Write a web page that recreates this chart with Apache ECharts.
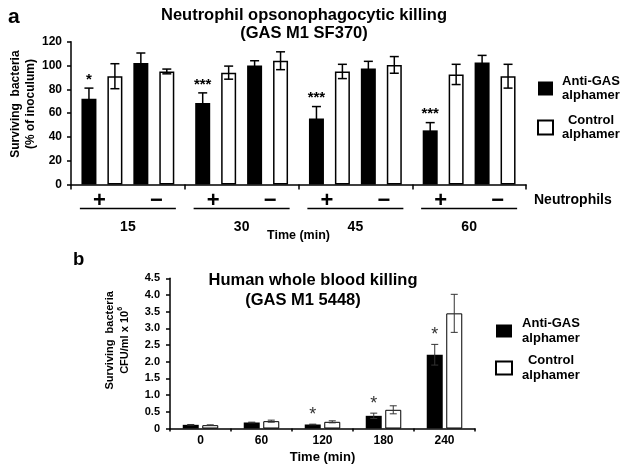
<!DOCTYPE html>
<html><head><meta charset="utf-8">
<script src="https://cdn.jsdelivr.net/npm/echarts@6/dist/echarts.min.js"></script>
<style>html,body{margin:0;padding:0;background:#fff}#c{width:624px;height:473px}</style>
</head><body><div id="c"></div>
<script>
const FF = '"Liberation Sans", Arial, Helvetica, sans-serif';

// ---------- Panel a data ----------
const timesA = ['15', '30', '45', '60'];
const neutSigns = ['+', '\u2212'];
const antiPlus = [72, 68.5, 55.5, 45.5];
const antiPlusErr = [9, 8.5, 10, 6.5];
const ctrlPlus = [91, 94, 95, 92.5];
const ctrlPlusErr = [10.5, 5.5, 6, 8.5];
const antiMinus = [102, 100, 97.5, 102.5];
const antiMinusErr = [8.5, 4, 6, 6];
const ctrlMinus = [95, 104, 100.5, 91];
const ctrlMinusErr = [2, 7.5, 7, 10];
const sigA = ['*', '***', '***', '***'];
const yTicksA = [0, 120, 20];

// ---------- Panel b data ----------
const timesB = ['0', '60', '120', '180', '240'];
const antiB = [0.11, 0.18, 0.12, 0.38, 2.21];
const antiBErr = [0.01, 0.01, 0.01, 0.08, 0.31];
const ctrlB = [0.10, 0.22, 0.20, 0.56, 3.45];
const ctrlBErr = [0.01, 0.03, 0.03, 0.12, 0.57];
const sigB = ['', '', '*', '*', '*'];
const yTicksB = [0, 4.5, 0.5];

const LEG = ['Anti-GAS\nalphamer', 'Control\nalphamer'];

const neutCats = timesA.flatMap(t => neutSigns.map(s => t + s));

const groupsA = [
  { name: LEG[0], vals: antiPlus, errs: antiPlusErr, sig: sigA, fill: '#000' },
  { name: LEG[1], vals: ctrlPlus, errs: ctrlPlusErr, sig: null, fill: '#fff' },
  { name: LEG[0], vals: antiMinus, errs: antiMinusErr, sig: null, fill: '#000' },
  { name: LEG[1], vals: ctrlMinus, errs: ctrlMinusErr, sig: null, fill: '#fff' }
];
const groupsB = [
  { name: LEG[0], vals: antiB, errs: antiBErr, sig: sigB, fill: '#000' },
  { name: LEG[1], vals: ctrlB, errs: ctrlBErr, sig: null, fill: '#fff' }
];

function barSeries(groups, xi, yi, barW, gap, bw) {
  return groups.map(g => ({
    type: 'bar', name: g.name, xAxisIndex: xi, yAxisIndex: yi,
    data: g.vals, barWidth: barW, barGap: gap,
    itemStyle: { color: g.fill, borderColor: '#000', borderWidth: g.fill === '#000' ? 0 : bw },
    emphasis: { disabled: true }
  }));
}

function errSeries(groups, xi, yi, barW, gapR, st) {
  const data = [], sigs = [];
  groups.forEach((g, k) => g.vals.forEach((v, i) => {
    data.push([i, v, g.errs[i], k]);
    sigs.push(g.sig ? g.sig[i] : '');
  }));
  const n = groups.length;
  return {
    type: 'custom', xAxisIndex: xi, yAxisIndex: yi, silent: true, z: 5,
    data: data,
    renderItem: function (params, api) {
      const i = api.value(0), v = api.value(1), e = api.value(2), k = api.value(3);
      const gap = barW * gapR;
      const total = n * barW + (n - 1) * gap;
      const off = -total / 2 + barW / 2 + k * (barW + gap);
      const pt = api.coord([i, v + e]);
      const pb = api.coord([i, v - e]);
      const x = pt[0] + off;
      const ls = { stroke: st.color, lineWidth: st.lw };
      const ch = [
        { type: 'line', shape: { x1: x, y1: pt[1], x2: x, y2: pb[1] }, style: ls },
        { type: 'line', shape: { x1: x - st.cap, y1: pt[1], x2: x + st.cap, y2: pt[1] }, style: ls },
        { type: 'line', shape: { x1: x - st.cap, y1: pb[1], x2: x + st.cap, y2: pb[1] }, style: ls }
      ];
      const s = sigs[params.dataIndex];
      if (s) {
        ch.push({ type: 'text', x: x, y: pt[1] - st.sigGap,
          style: { text: s, align: 'center', verticalAlign: 'bottom', fill: st.sigColor,
            fontSize: st.sigSize, fontWeight: st.sigWeight, fontFamily: FF } });
      }
      return { type: 'group', children: ch };
    }
  };
}

function legendFmt(n) { return n.split('\n').map(s => '{c|' + s + '}').join('\n'); }

const chart = echarts.init(document.getElementById('c'));
const bold = { fontFamily: FF, fontWeight: 'bold', color: '#000' };

const option = {
  animation: false,
  backgroundColor: '#fff',
  title: [
    { text: 'a', left: 8, top: 7, padding: 0, textStyle: Object.assign({ fontSize: 21 }, bold) },
    { text: 'Neutrophil opsonophagocytic killing\n(GAS M1 SF370)', left: 304, top: 6, padding: 0, textAlign: 'center',
      textStyle: Object.assign({ fontSize: 16.5, lineHeight: 18 }, bold) },
    { text: 'b', left: 73, top: 250, padding: 0, textStyle: Object.assign({ fontSize: 18.5 }, bold) },
    { text: 'Human whole blood killing', left: 313, top: 271, padding: 0, textAlign: 'center',
      textStyle: Object.assign({ fontSize: 16.5, lineHeight: 18 }, bold) },
    { text: '(GAS M1 5448)', left: 303, top: 291, padding: 0, textAlign: 'center',
      textStyle: Object.assign({ fontSize: 16.5, lineHeight: 18 }, bold) }
  ],
  legend: [
    { data: LEG, orient: 'vertical', left: 532, top: 70, itemWidth: 15, itemHeight: 14, itemGap: 12,
      icon: 'rect', selectedMode: false, formatter: legendFmt,
      textStyle: { rich: { c: Object.assign({ width: 66, align: 'center', fontSize: 13, lineHeight: 14 }, bold) } } },
    { data: LEG, orient: 'vertical', left: 490, top: 312, itemWidth: 16, itemHeight: 13, itemGap: 9,
      icon: 'rect', selectedMode: false, formatter: legendFmt,
      textStyle: { rich: { c: Object.assign({ width: 68, align: 'center', fontSize: 13, lineHeight: 15 }, bold) } } }
  ],
  grid: [
    { left: 71, right: 98, top: 41.7, bottom: 288.5, outerBoundsMode: 'none', containLabel: false },
    { left: 170, right: 149, top: 278.3, bottom: 44.5, outerBoundsMode: 'none', containLabel: false }
  ],
  xAxis: [
    { type: 'category', gridIndex: 0, data: timesA,
      axisLine: { lineStyle: { color: '#000', width: 1.5 } },
      axisTick: { show: true, length: 5, lineStyle: { color: '#000', width: 1.5 } },
      axisLabel: { margin: 23, formatter: v => '{ln|}\n{t|' + v + '}',
        rich: { ln: { width: 96, height: 1.5, lineHeight: 2, backgroundColor: '#000' },
                t: Object.assign({ fontSize: 14, lineHeight: 36 }, bold) } },
      name: 'Time (min)', nameLocation: 'middle', nameGap: 45, nameMoveOverlap: false,
      nameTextStyle: Object.assign({ fontSize: 12.5 }, bold) },
    { type: 'category', gridIndex: 0, data: neutCats, position: 'bottom', offset: 16,
      axisLine: { show: false }, axisTick: { show: false },
      axisLabel: { margin: 0, verticalAlign: 'middle', formatter: v => v.slice(-1),
        fontSize: 22, fontWeight: 'bold', fontFamily: FF, color: '#000' },
      name: 'Neutrophils', nameLocation: 'end', nameGap: 8, nameMoveOverlap: false,
      nameTextStyle: Object.assign({ fontSize: 14, verticalAlign: 'middle' }, bold) },
    { type: 'category', gridIndex: 1, data: timesB,
      axisLine: { lineStyle: { color: '#000', width: 1.5 } },
      axisTick: { show: true, length: 3, lineStyle: { color: '#000', width: 1.5 } },
      axisLabel: Object.assign({ margin: 6, fontSize: 12 }, bold),
      name: 'Time (min)', nameLocation: 'middle', nameGap: 22, nameMoveOverlap: false,
      nameTextStyle: Object.assign({ fontSize: 13 }, bold) }
  ],
  yAxis: [
    { type: 'value', gridIndex: 0, min: yTicksA[0], max: yTicksA[1], interval: yTicksA[2],
      splitLine: { show: false },
      axisLine: { show: true, lineStyle: { color: '#000', width: 1.5 } },
      axisTick: { show: true, length: 4, lineStyle: { color: '#000', width: 1.5 } },
      axisLabel: Object.assign({ margin: 9, fontSize: 12 }, bold),
      name: 'Surviving  bacteria\n(% of inoculum)', nameLocation: 'middle', nameRotate: 90, nameGap: 33,
      nameMoveOverlap: false,
      nameTextStyle: Object.assign({ fontSize: 12, lineHeight: 15, padding: [0, 0, 0, 18] }, bold) },
    { type: 'value', gridIndex: 1, min: yTicksB[0], max: yTicksB[1], interval: yTicksB[2],
      splitLine: { show: false },
      axisLine: { show: true, lineStyle: { color: '#000', width: 1.5 } },
      axisTick: { show: true, length: 4, lineStyle: { color: '#000', width: 1.5 } },
      axisLabel: Object.assign({ margin: 10, fontSize: 11, formatter: v => v === 0 ? '0' : v.toFixed(1) }, bold),
      name: '{n|Surviving  bacteria}\n{n|CFU/ml x 10}{s|6}', nameLocation: 'middle', nameRotate: 90, nameGap: 38,
      nameMoveOverlap: false,
      nameTextStyle: { padding: [0, 0, 0, 26],
        rich: { n: Object.assign({ fontSize: 11, lineHeight: 15 }, bold),
                s: Object.assign({ fontSize: 7, lineHeight: 15, verticalAlign: 'top' }, bold) } } }
  ],
  series: [].concat(
    barSeries(groupsA, 0, 0, 15, '73%', 1.5),
    barSeries(groupsB, 2, 1, 16, '22%', 1),
    [
      errSeries(groupsA, 0, 0, 15, 0.73, { color: '#000', lw: 1.5, cap: 4.5, sigGap: 1, sigColor: '#000', sigSize: 15, sigWeight: 'bold' }),
      errSeries(groupsB, 2, 1, 16, 0.22, { color: '#333', lw: 1, cap: 3.5, sigGap: 0, sigColor: '#333', sigSize: 18, sigWeight: 'normal' })
    ]
  )
};
chart.setOption(option);
</script></body></html>
